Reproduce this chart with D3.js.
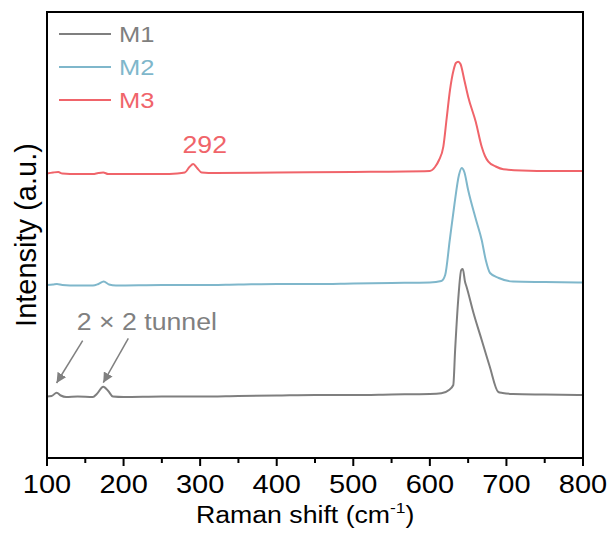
<!DOCTYPE html>
<html>
<head>
<meta charset="utf-8">
<script src="https://cdn.jsdelivr.net/npm/d3@7"></script>
<style>
  body { margin: 0; background: #fff; }
  text { font-family: 'Liberation Sans', Arial, sans-serif; }
</style>
</head>
<body>
<svg id="chart"></svg>
<script>
// Raman spectra, intensity in arbitrary units (stacked with offsets already in the values)
const seriesNames = ['M1', 'M2', 'M3']
const seriesColors = ['#7f7f7f', '#7fb7cb', '#f0646a']

const m1Shift = [100, 106, 112.7, 118, 125, 140, 160, 165, 173.5, 180, 186, 200, 250, 300, 350, 400, 450, 500, 550, 600, 615, 625, 630.6, 633, 637, 641, 643, 646, 648, 657, 667.7, 678, 689.4, 695, 708.6, 750, 800]
const m1Value = [61.5, 62, 65.3, 62.5, 61, 61.5, 61, 64, 71.3, 67, 61.5, 61, 61.5, 61.5, 62, 62.5, 63, 63, 63.5, 64, 64.7, 68, 73, 108, 158, 188, 189, 176, 171, 145, 118, 92, 66, 65, 64, 63.5, 63]

const m2Shift = [100, 108, 113, 120, 140, 160, 167, 174, 181, 190, 250, 300, 350, 400, 450, 500, 550, 600, 615, 620, 626, 632, 638, 641.6, 645, 650, 660, 667.7, 673, 678.6, 690, 708.6, 750, 800]
const m2Value = [173, 173.5, 174, 173, 172.5, 172.5, 174, 176.5, 173.5, 172.5, 173, 173, 173.5, 174, 174, 174.5, 175, 175.5, 177, 183, 218, 253, 283, 290, 286, 268, 239, 218, 198, 185, 180, 176.5, 176, 175.5]

const m3Shift = [100, 108, 114.8, 120, 140, 160, 167, 173.5, 180, 200, 250, 270, 280, 286, 291, 296, 302, 320, 400, 500, 600, 606.7, 612, 617.6, 622, 626.3, 631, 634, 637, 640, 645, 650, 660, 667.7, 672, 676.4, 686, 696, 720, 760, 800]
const m3Value = [284.5, 285.5, 286, 284.5, 284, 284, 285, 285.5, 284, 284, 284, 284.5, 285.5, 291, 294, 290, 285.5, 285, 285.5, 286, 287, 291, 298, 311.3, 340, 368, 388, 395, 396.3, 394, 378, 361.3, 336, 311.3, 302, 296.3, 291.5, 288.7, 287.5, 287, 287]

const xTicks = [100, 200, 300, 400, 500, 600, 700, 800]
const xMinorTicks = [150, 250, 350, 450, 550, 650, 750]

// annotations in data units: [shift, intensity]
const tunnelLabel = { text: '2 \u00d7 2 tunnel', at: [139, 128] }
const peakLabel = { text: '292', at: [306, 305] }
const arrowTails = [[146.6, 117.3], [206.2, 119.7]]
const arrowTips = [[112.5, 75], [173.5, 75.3]]

const w = 614
const h = 539
const margin = { top: 12, right: 31, bottom: 81, left: 47 }
const sx = 1.16 // horizontal stretch of the original lettering

const svg = d3.select('#chart')
  .attr('width', w)
  .attr('height', h)

const xScale = d3.scaleLinear()
  .domain([100, 800])
  .range([margin.left, w - margin.right])

const yScale = d3.scaleLinear()
  .domain([0, 446])
  .range([h - margin.bottom, margin.top])

const series = [
  { name: seriesNames[0], color: seriesColors[0], data: m1Shift.map((s, i) => ({ s, v: m1Value[i] })) },
  { name: seriesNames[1], color: seriesColors[1], data: m2Shift.map((s, i) => ({ s, v: m2Value[i] })) },
  { name: seriesNames[2], color: seriesColors[2], data: m3Shift.map((s, i) => ({ s, v: m3Value[i] })) },
]

const line = d3.line()
  .x(d => xScale(d.s))
  .y(d => yScale(d.v))
  .curve(d3.curveMonotoneX)

svg.selectAll('path.spectrum')
  .data(series)
  .join('path')
  .attr('class', 'spectrum')
  .attr('d', d => line(d.data))
  .attr('fill', 'none')
  .attr('stroke', d => d.color)
  .attr('stroke-width', 2)
  .attr('stroke-linejoin', 'round')

// stretched text helper
function addText(x, y, str, size, color, anchor) {
  return svg.append('text')
    .attr('transform', `translate(${x},${y}) scale(${sx},1)`)
    .attr('font-size', size)
    .attr('fill', color)
    .attr('text-anchor', anchor || 'start')
    .text(str)
}

// frame
svg.append('rect')
  .attr('x', margin.left)
  .attr('y', margin.top)
  .attr('width', w - margin.left - margin.right)
  .attr('height', h - margin.top - margin.bottom)
  .attr('fill', 'none')
  .attr('stroke', '#000')
  .attr('stroke-width', 2)

// x axis
const xAxis = svg.append('g')
  .attr('transform', `translate(0, ${h - margin.bottom})`)
xAxis.selectAll('line.major')
  .data(xTicks)
  .join('line')
  .attr('x1', d => xScale(d)).attr('x2', d => xScale(d))
  .attr('y1', 0).attr('y2', 8)
  .attr('stroke', '#000').attr('stroke-width', 2)
xAxis.selectAll('line.minor')
  .data(xMinorTicks)
  .join('line')
  .attr('x1', d => xScale(d)).attr('x2', d => xScale(d))
  .attr('y1', 0).attr('y2', 5)
  .attr('stroke', '#000').attr('stroke-width', 2)
xTicks.forEach(t => addText(xScale(t), h - margin.bottom + 35, t, 25, '#000', 'middle'))

// axis titles
const xTitle = addText(196, 523, 'Raman shift (cm', 23, '#000')
xTitle.append('tspan').attr('font-size', 15).attr('dy', -10).text('-1')
xTitle.append('tspan').attr('dy', 10).text(')')

svg.append('text')
  .attr('transform', `translate(36, ${(margin.top + h - margin.bottom) / 2}) rotate(-90)`)
  .attr('font-size', 29)
  .attr('text-anchor', 'middle')
  .text('Intensity (a.u.)')

// legend
series.forEach((d, i) => {
  const y = 34 + i * 33
  svg.append('line')
    .attr('x1', 59).attr('x2', 111)
    .attr('y1', y).attr('y2', y)
    .attr('stroke', d.color).attr('stroke-width', 2)
  addText(119, y + 8, d.name, 22, d.color)
})

// annotations
addText(xScale(peakLabel.at[0]), yScale(peakLabel.at[1]), peakLabel.text, 23, seriesColors[2], 'middle')
addText(xScale(tunnelLabel.at[0]), yScale(tunnelLabel.at[1]), tunnelLabel.text, 23, '#808080')

svg.append('defs').append('marker')
  .attr('id', 'arrow')
  .attr('viewBox', '0 0 10 10')
  .attr('refX', 10).attr('refY', 5)
  .attr('markerWidth', 10).attr('markerHeight', 10)
  .attr('markerUnits', 'userSpaceOnUse')
  .attr('orient', 'auto')
  .append('path')
  .attr('d', 'M0,0 L10,5 L0,10 Z')
  .attr('fill', '#808080')

svg.selectAll('line.arrow')
  .data(arrowTails)
  .join('line')
  .attr('class', 'arrow')
  .attr('x1', d => xScale(d[0])).attr('y1', d => yScale(d[1]))
  .attr('x2', (d, i) => xScale(arrowTips[i][0])).attr('y2', (d, i) => yScale(arrowTips[i][1]))
  .attr('stroke', '#808080').attr('stroke-width', 1.5)
  .attr('marker-end', 'url(#arrow)')
</script>
</body>
</html>
